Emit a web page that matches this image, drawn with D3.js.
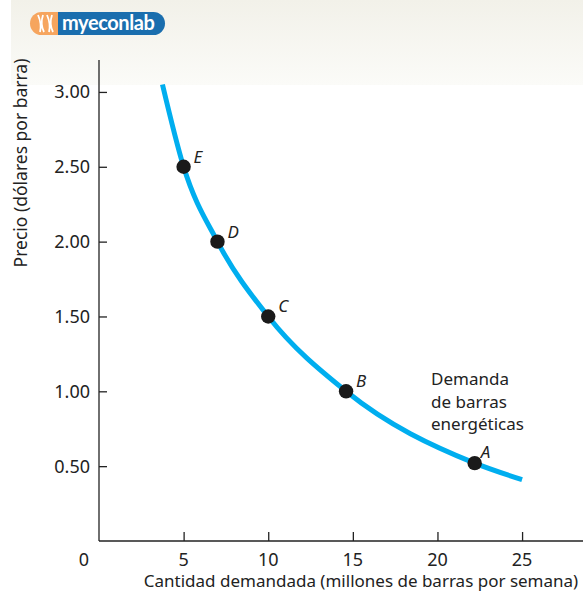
<!DOCTYPE html>
<html><head><meta charset="utf-8">
<script src="https://cdn.jsdelivr.net/npm/d3@7"></script>
<style>
html,body{margin:0;padding:0;background:#fff;}
svg{display:block;font-family:"Noto Sans",sans-serif;}
</style></head>
<body>
<svg id="c" width="583" height="594"></svg>
<script>
// data
const pointLabels = ["A","B","C","D","E"];
const quantity = [22.2, 14.6, 10, 7, 5];
const price = [0.52, 1.0, 1.5, 2.0, 2.5];
const curveQ = [3.75, 5, 7, 10, 14.6, 22.2, 25];
const curveP = [3.05, 2.5, 2.0, 1.5, 1.0, 0.52, 0.41];
const xTicks = [0, 5, 10, 15, 20, 25];
const yTicks = [0.5, 1.0, 1.5, 2.0, 2.5, 3.0];
const curveLabel = ["Demanda", "de barras", "energéticas"];

const svg = d3.select("#c");
const defs = svg.append("defs");
const g = defs.append("linearGradient").attr("id","bg").attr("x1",0).attr("y1",0).attr("x2",0).attr("y2",1);
g.append("stop").attr("offset","0%").attr("stop-color","#f2f1e9");
g.append("stop").attr("offset","100%").attr("stop-color","#fbfbf8");
svg.append("rect").attr("x",11).attr("y",0).attr("width",572).attr("height",85).attr("fill","url(#bg)");

// logo
const logo = svg.append("g");
logo.append("rect").attr("x",30).attr("y",12).attr("width",40).attr("height",23).attr("rx",11.5).attr("fill","#f6a55e");
logo.append("rect").attr("x",58).attr("y",12).attr("width",107).attr("height",23).attr("rx",11.5).attr("fill","#1a6eae");
logo.append("rect").attr("x",58).attr("y",12).attr("width",20).attr("height",23).attr("fill","#1a6eae");
logo.append("path").attr("d","M38,15 Q42,24 40,32 M43,15 Q40,24 44,32 M47,15 Q51,24 49,32 M52,15 Q49,24 53,32")
  .attr("fill","none").attr("stroke","#fff").attr("stroke-width",1.8);
logo.append("text").attr("x",62).attr("y",30).attr("fill","#fff").attr("font-size",20)
  .attr("font-weight","bold").attr("font-family","Lato, sans-serif").attr("letter-spacing","-0.4").text("myeconlab");

const x = d3.scaleLinear().domain([0, 28.6]).range([99, 583]);
const y = d3.scaleLinear().domain([0, 3.2]).range([541, 62]);

// axes
const ax = svg.append("g").attr("stroke","#222").attr("stroke-width",1.3);
ax.append("line").attr("x1",x(0)).attr("x2",x(0)).attr("y1",60).attr("y2",y(0));
ax.append("line").attr("x1",x(0)).attr("x2",583).attr("y1",y(0)).attr("y2",y(0));

const xAxis = d3.axisTop(x).tickValues(xTicks.filter(d=>d>0)).tickSize(9).tickFormat("");
svg.append("g").attr("transform",`translate(0,${y(0)})`).call(xAxis)
  .call(s=>s.select(".domain").remove())
  .call(s=>s.selectAll("line").attr("stroke","#222").attr("stroke-width",1.3));
const yAxis = d3.axisRight(y).tickValues(yTicks).tickSize(8).tickFormat("");
svg.append("g").attr("transform",`translate(${x(0)},0)`).call(yAxis)
  .call(s=>s.select(".domain").remove())
  .call(s=>s.selectAll("line").attr("stroke","#222").attr("stroke-width",1.3));

svg.append("g").selectAll("text").data(xTicks).join("text")
  .attr("x",d=>d===0?84:x(d)).attr("y",566).attr("text-anchor","middle")
  .attr("font-size",18).attr("fill","#222").text(d=>d);
svg.append("g").selectAll("text").data(yTicks).join("text")
  .attr("x",90).attr("y",d=>y(d)+6.5).attr("text-anchor","end")
  .attr("font-size",18).attr("fill","#222").text(d=>d.toFixed(2));

svg.append("text").attr("x",361).attr("y",587).attr("text-anchor","middle")
  .attr("font-size",17).attr("fill","#222").text("Cantidad demandada (millones de barras por semana)");
svg.append("text").attr("transform","translate(27,163) rotate(-90)").attr("text-anchor","middle")
  .attr("font-size",17.5).attr("fill","#222").text("Precio (dólares por barra)");

// curve
const line = d3.line().x(d=>x(d[0])).y(d=>y(d[1])).curve(d3.curveMonotoneX);
svg.append("path").datum(curveQ.map((q,i)=>[q,curveP[i]])).attr("d",line)
  .attr("fill","none").attr("stroke","#00aeef").attr("stroke-width",5);

// points
const pts = pointLabels.map((l,i)=>({l,q:quantity[i],p:price[i]}));
svg.append("g").selectAll("circle").data(pts).join("circle")
  .attr("cx",d=>x(d.q)).attr("cy",d=>y(d.p)).attr("r",7.2).attr("fill","#1a1a1a");
svg.append("g").selectAll("text").data(pts).join("text")
  .attr("x",d=>x(d.q)+(d.l==="A"?6:10)).attr("y",d=>y(d.p)-(d.l==="A"?5:4))
  .attr("font-size",17).attr("font-style","italic").attr("fill","#222").text(d=>d.l);

svg.append("g").selectAll("text").data(curveLabel).join("text")
  .attr("x",431).attr("y",(d,i)=>385+i*22.5).attr("font-size",17).attr("fill","#222").text(d=>d);
</script>
</body></html>
